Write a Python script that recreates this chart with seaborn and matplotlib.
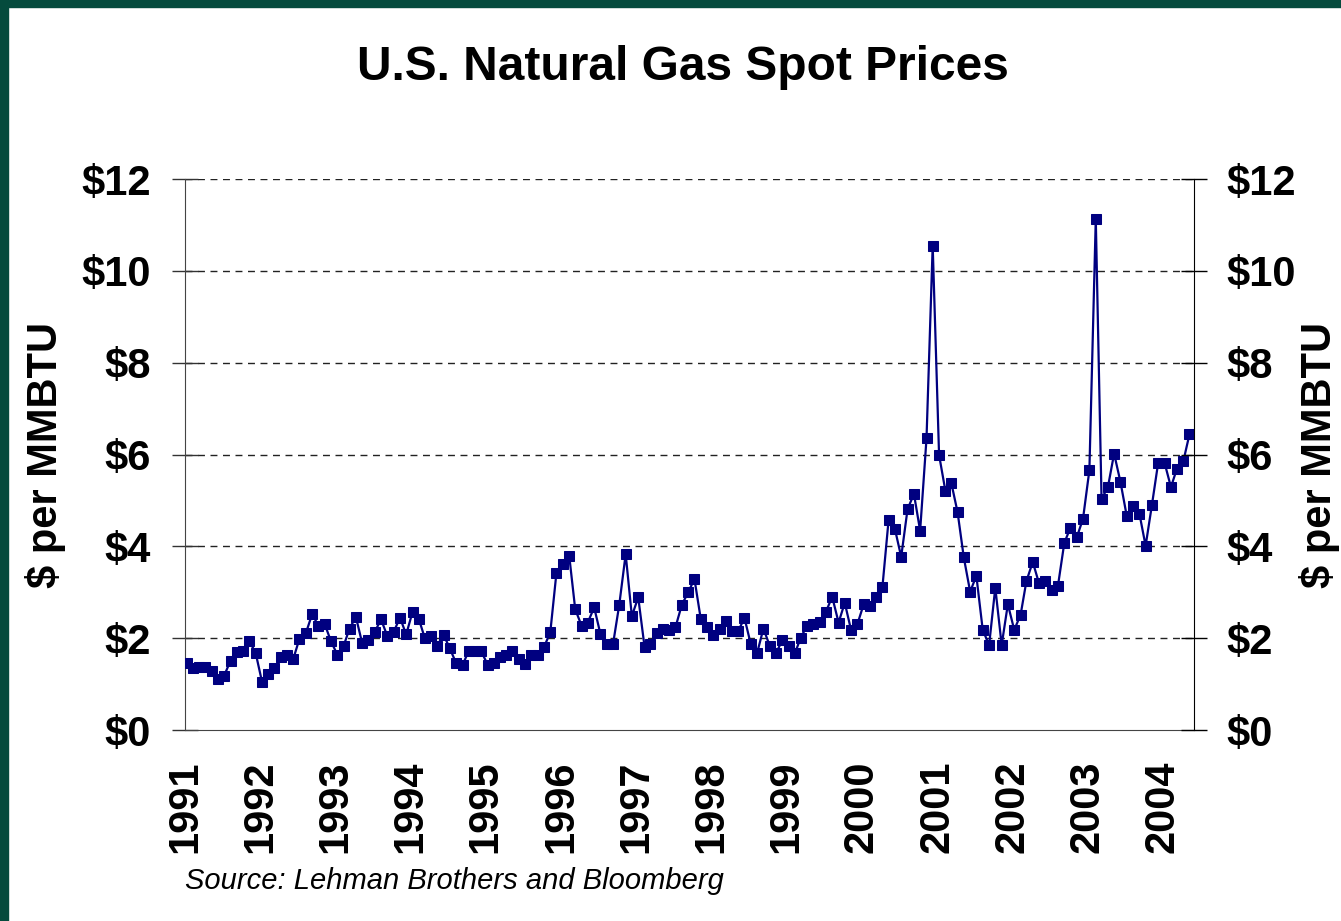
import pandas as pd
import matplotlib
matplotlib.use("Agg")
import matplotlib.pyplot as plt
import matplotlib.dates as mdates
from matplotlib.patches import Rectangle
import seaborn as sns

# monthly spot price ($ per MMBTU), Jan 1991 .. May 2004
p1991 = [1.45, 1.36, 1.38, 1.38, 1.29, 1.12, 1.18, 1.51, 1.69, 1.73, 1.93, 1.68]
p1992 = [1.05, 1.22, 1.35, 1.58, 1.63, 1.55, 1.99, 2.11, 2.53, 2.26, 2.30, 1.93]
p1993 = [1.64, 1.84, 2.21, 2.46, 1.90, 1.96, 2.13, 2.41, 2.04, 2.13, 2.45, 2.08]
p1994 = [2.57, 2.41, 2.01, 2.04, 1.84, 2.07, 1.78, 1.45, 1.41, 1.73, 1.73, 1.71]
p1995 = [1.42, 1.45, 1.58, 1.64, 1.71, 1.55, 1.44, 1.64, 1.64, 1.80, 2.13, 3.43]
p1996 = [3.62, 3.79, 2.63, 2.27, 2.34, 2.67, 2.10, 1.88, 1.88, 2.73, 3.83, 2.48]
p1997 = [2.89, 1.80, 1.88, 2.11, 2.21, 2.17, 2.24, 2.73, 3.00, 3.29, 2.41, 2.24]
p1998 = [2.06, 2.21, 2.37, 2.15, 2.15, 2.44, 1.88, 1.67, 2.21, 1.84, 1.67, 1.95]
p1999 = [1.84, 1.67, 2.01, 2.27, 2.31, 2.35, 2.57, 2.90, 2.34, 2.77, 2.17, 2.30]
p2000 = [2.74, 2.69, 2.90, 3.12, 4.58, 4.37, 3.77, 4.81, 5.14, 4.34, 6.35, 10.55]
p2001 = [5.99, 5.20, 5.39, 4.74, 3.76, 3.01, 3.36, 2.18, 1.85, 3.10, 1.85, 2.74]
p2002 = [2.18, 2.51, 3.24, 3.66, 3.20, 3.24, 3.05, 3.13, 4.07, 4.41, 4.20, 4.60]
p2003 = [5.66, 11.13, 5.03, 5.29, 6.02, 5.40, 4.67, 4.87, 4.71, 4.01, 4.91, 5.82]
p2004 = [5.82, 5.29, 5.69, 5.85, 6.44]

y_ticks = [0, 2, 4, 6, 8, 10, 12]
y_labels = ["$0", "$2", "$4", "$6", "$8", "$10", "$12"]

prices = (p1991 + p1992 + p1993 + p1994 + p1995 + p1996 + p1997 + p1998
          + p1999 + p2000 + p2001 + p2002 + p2003 + p2004)
dates = pd.date_range("1991-01-01", periods=len(prices), freq="MS") + pd.Timedelta(days=9)
df = pd.DataFrame({"date": dates, "price": prices})

sns.set_style("white")
plt.rcParams["font.family"] = ["Liberation Sans", "DejaVu Sans"]
plt.rcParams["text.color"] = "black"
plt.rcParams["xtick.labelcolor"] = "black"
plt.rcParams["ytick.labelcolor"] = "black"

navy = "#000080"
green = "#054b3d"

fig = plt.figure(figsize=(13.41, 9.21), dpi=100)
ax = fig.add_axes([185 / 1341, 1 - 730 / 921, (1194 - 185) / 1341, (730 - 179) / 921])

# 网格线放在下面
ax.set_axisbelow(True)
for v in y_ticks[1:]:
    ax.axhline(v, color="#222222", lw=1.0, ls=(0, (5, 4)), zorder=0)

sns.lineplot(data=df, x="date", y="price", ax=ax, color=navy, lw=1.6,
             marker="s", markersize=6.5, markeredgecolor=navy, zorder=3)

ax.set_xlim(pd.Timestamp("1991-01-01"), pd.Timestamp("2004-06-01"))
ax.set_ylim(0, 12)
ax.set_xlabel("")
ax.set_ylabel("")

ax.xaxis.set_major_locator(mdates.YearLocator())
ax.xaxis.set_major_formatter(mdates.DateFormatter("%Y"))
ax.set_yticks(y_ticks)
ax.set_yticklabels(y_labels)

ax.tick_params(axis="x", direction="out", length=9, width=1, color="#555555",
               pad=13, labelsize=30, labelrotation=90, labelcolor="black")
ax.tick_params(axis="y", direction="inout", length=19, width=1, color="#333333",
               pad=15, labelsize=30, labelcolor="black")
for lab in ax.get_xticklabels() + ax.get_yticklabels():
    lab.set_fontweight("bold")
for lab in ax.get_xticklabels():
    lab.set_va("top")

ax.spines["top"].set_visible(False)
ax.spines["left"].set_color("#444444")
ax.spines["bottom"].set_color("#444444")
ax.spines["right"].set_visible(False)

# 右侧坐标轴
ax2 = ax.twinx()
ax2.set_ylim(0, 12)
ax2.set_yticks(y_ticks)
ax2.set_yticklabels(y_labels, fontweight="bold")
ax2.tick_params(axis="y", direction="inout", length=19, width=1, color="black",
                pad=14, labelsize=30, labelcolor="black")
for s in ["top", "left", "bottom"]:
    ax2.spines[s].set_visible(False)
ax2.spines["right"].set_color("black")

fig.text(683 / 1341, 1 - 67 / 921, "U.S. Natural Gas Spot Prices",
         ha="center", va="center", fontsize=34.5, fontweight="bold", color="black")
fig.text(45 / 1341, 1 - 455 / 921, "$ per MMBTU", rotation=90,
         ha="center", va="center", fontsize=30, fontweight="bold", color="black")
fig.text(1320 / 1341, 1 - 455 / 921, "$ per MMBTU", rotation=90,
         ha="center", va="center", fontsize=30, fontweight="bold", color="black")
fig.text(185 / 1341, 1 - 889 / 921, "Source: Lehman Brothers and Bloomberg",
         ha="left", va="baseline", fontsize=21, style="italic", color="black")

# 幻灯片的绿色边框（上、左）
fig.patches.append(Rectangle((0, 1 - 7 / 921), 1, 7 / 921, transform=fig.transFigure,
                             color=green, zorder=10))
fig.patches.append(Rectangle((0, 0), 8 / 1341, 1, transform=fig.transFigure,
                             color=green, zorder=10))

fig.savefig("out.png", dpi=100)
plt.close(fig)
